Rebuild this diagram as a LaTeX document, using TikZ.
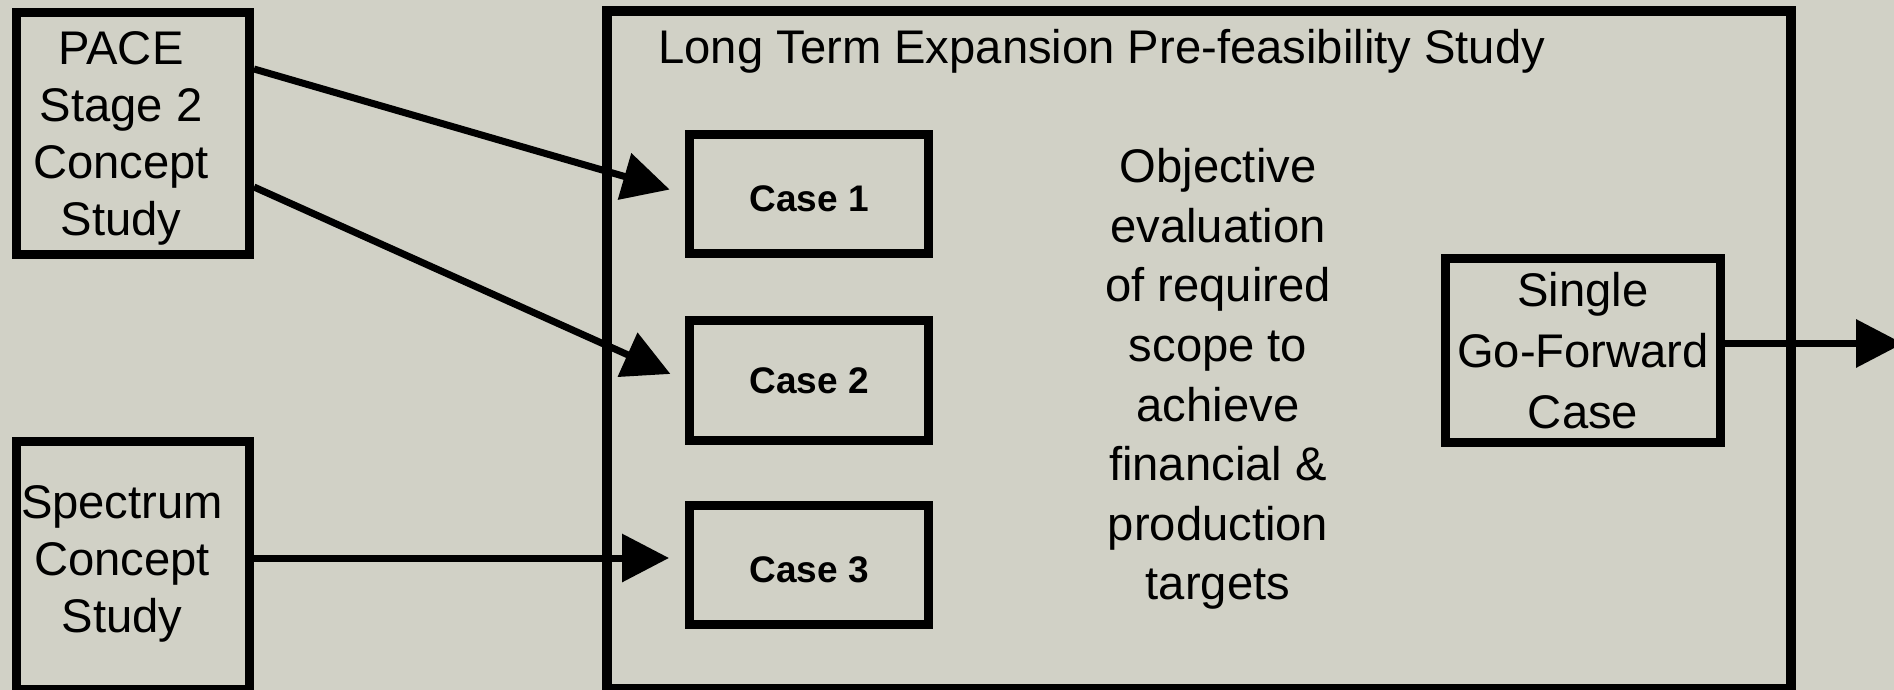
\documentclass[tikz,border=0pt]{standalone}
\usepackage{fontspec}
\setmainfont{Liberation Sans}
\usetikzlibrary{arrows.meta}
\definecolor{bgc}{RGB}{209,209,198}
\begin{document}
\begin{tikzpicture}[x=0.5pt,y=-0.5pt,
  box/.style={draw=black,line width=4.5pt,inner sep=0pt,align=center},
  bigbox/.style={draw=black,line width=5pt,inner sep=0pt},
  lbl/.style={font=\fontsize{23.6pt}{28.5pt}\selectfont,align=center,inner sep=0pt},
  casebox/.style={box,minimum width=119.5pt,minimum height=59.5pt,text height=17.6pt,text depth=0pt,font=\fontsize{18.5pt}{22pt}\selectfont\bfseries},
  arr/.style={line width=3.5pt,-{Triangle[length=23.5pt,width=23.5pt]}}]
\useasboundingbox (0,0) rectangle (1894,690);
\clip (0,0) rectangle (1894,690);
\fill[bgc] (0,0) rectangle (1894,690);
% main frame
\node[bigbox,minimum width=592pt,minimum height=339pt] (lt) at (1199,350) {};
\node[lbl,anchor=base west] (title) at (658,63.5) {Long Term Expansion Pre-feasibility Study};
% input boxes
\node[box,minimum width=116.5pt,minimum height=121pt] (pace) at (133,133.5) {};
\node[lbl] (pacet) at (121,138.5) {PACE\\Stage 2\\Concept\\Study};
\node[box,minimum width=116.5pt,minimum height=124pt] (spec) at (133,565) {};
\node[lbl,font=\fontsize{23.6pt}{28.4pt}\selectfont] (spect) at (122,564) {Spectrum\\Concept\\Study};
% cases
\node[casebox] (case1) at (809,194) {Case 1};
\node[casebox,minimum height=60pt,text height=13.4pt] (case2) at (809,380.5) {Case 2};
\node[casebox] (case3) at (809,565) {Case 3};
% objective
\node[lbl,font=\fontsize{23.6pt}{29.8pt}\selectfont] (obj) at (1218,379) {Objective\\evaluation\\of required\\scope to\\achieve\\financial \&\\production\\targets};
% single case
\node[box,minimum width=137.5pt,minimum height=92pt,font=\fontsize{23.6pt}{30.5pt}\selectfont] (single) at (1583,350.5) {Single\\Go-Forward\\Case};
\coordinate (out) at (1903,343.5);
\coordinate (s3) at ([yshift=3.5pt]spec.east);
% connectors
\draw[arr,shorten >=8pt] ([yshift=32.25pt]pace.east) -- (case1.west);
\draw[arr,shorten >=8pt] ([yshift=-26.75pt]pace.east) -- (case2.west);
\draw[arr,shorten >=8pt] (s3) -- (s3 -| case3.west);
\draw[arr] ([yshift=3.5pt]single.east) -- (out);
\end{tikzpicture}
\end{document}
